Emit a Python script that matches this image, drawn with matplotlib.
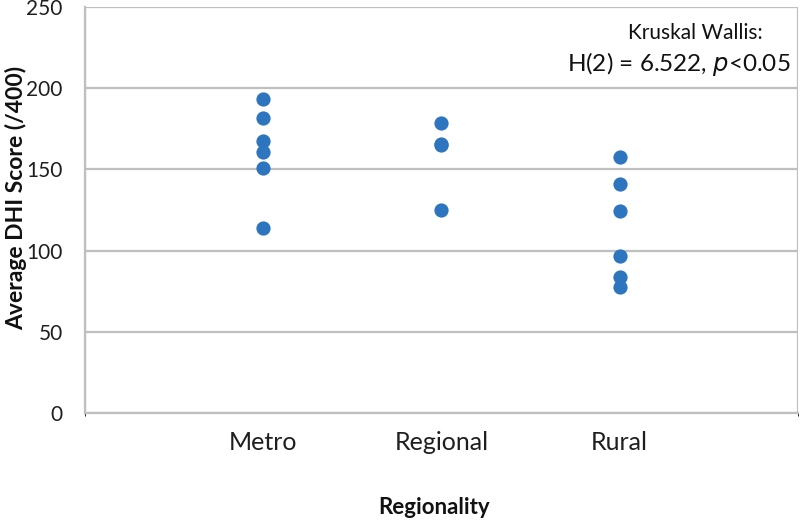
import matplotlib
matplotlib.use("Agg")
import matplotlib.pyplot as plt

categories = ["Metro", "Regional", "Rural"]
metro = [193.5, 181.5, 167.5, 160.5, 151, 114]
regional = [178.5, 165.5, 165, 125]
rural = [157.5, 141, 124.5, 96.5, 84, 77.5]
series = [metro, regional, rural]
yticks = [0, 50, 100, 150, 200, 250]

plt.rcParams['font.family'] = ['Lato', 'DejaVu Sans']

fig = plt.figure(figsize=(8, 5.2), dpi=100)
ax = fig.add_axes([0.106, 0.206, 0.8915, 0.7805])

grid_c = '#bfbfbf'
for i, vals in enumerate(series):
    ax.scatter([i + 1] * len(vals), vals, s=105, color='#2e75c0', zorder=3, linewidths=0)

ax.set_xlim(0, 4)
ax.set_ylim(0, 250)
ax.set_yticks(yticks)
ax.set_yticklabels([str(v) for v in yticks], fontsize=15, color='#1f1f1f')
ax.set_xticks([1, 2, 3])
ax.set_xticklabels(categories, fontsize=18, color='#1f1f1f')
ax.set_xticks([0, 1, 2, 3, 4], minor=True)
ax.tick_params(axis='both', length=0)
ax.tick_params(axis='x', pad=13)
ax.tick_params(axis='y', pad=16)
ax.grid(True, which='major', axis='y', color=grid_c, lw=1.6, zorder=0)
ax.grid(True, which='minor', axis='x', color=grid_c, lw=1.6, zorder=0)
for s in ['top', 'right']:
    ax.spines[s].set_visible(False)
for s in ['left', 'bottom']:
    ax.spines[s].set_color(grid_c)
    ax.spines[s].set_linewidth(1.6)

fig.text(0.02, 0.62, "Average DHI Score (/400)", fontsize=16.5, fontweight='bold', color='#111111',
         rotation=90, ha='center', va='center')
fig.text(0.543, 0.025, "Regionality", fontsize=16, fontweight='bold', color='#111111', ha='center', va='center')

ax.text(0.95, 0.96, "Kruskal Wallis:", transform=ax.transAxes, ha='right', va='top', fontsize=15, color='#111111')
ax.text(0.99, 0.895, "H(2) = 6.522, $\\it{p}$<0.05", transform=ax.transAxes, ha='right', va='top', fontsize=17.5, color='#111111')

fig.savefig("out.png", dpi=100)
